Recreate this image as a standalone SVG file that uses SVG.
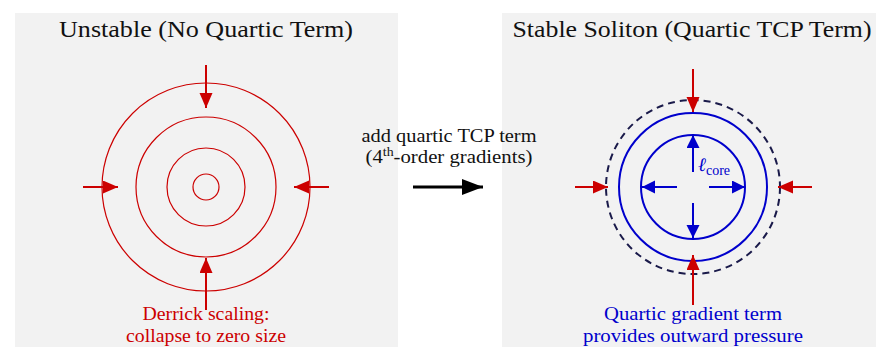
<svg xmlns="http://www.w3.org/2000/svg" width="876" height="347" viewBox="0 0 876 347">
<style>
text{font-family:"Liberation Serif","Times New Roman",serif;}
.title{font-size:24px;fill:#111;text-anchor:middle;}
.lbl{font-size:19px;text-anchor:middle;}
.red{stroke:#cc0000;fill:none;}
.blue{stroke:#0000cc;fill:none;}
</style>
<defs>
<marker id="ra" markerUnits="userSpaceOnUse" markerWidth="16" markerHeight="14" refX="15" refY="6.5" orient="auto"><path d="M0,0 L15,6.5 L0,13 Z" fill="#cc0000"/></marker>
<marker id="ba" markerUnits="userSpaceOnUse" markerWidth="14" markerHeight="14" refX="13" refY="6.5" orient="auto"><path d="M0,0 L13,6.5 L0,13 Z" fill="#0000cc"/></marker>
<marker id="ka" markerUnits="userSpaceOnUse" markerWidth="22" markerHeight="16" refX="21" refY="8" orient="auto"><path d="M0,0 L21,8 L0,16 Z" fill="#000"/></marker>
</defs>
<g id="panel-left">
<rect x="15" y="13" width="383" height="334" fill="#f2f2f2"/>
<text class="title" x="206" y="37" textLength="294" lengthAdjust="spacingAndGlyphs">Unstable (No Quartic Term)</text>
<circle class="red" cx="206" cy="187" r="104" stroke-width="1.2"/>
<circle class="red" cx="206" cy="187" r="70" stroke-width="1.2"/>
<circle class="red" cx="206" cy="187" r="39" stroke-width="1.2"/>
<circle class="red" cx="206" cy="187" r="13" stroke-width="1.2"/>
<text class="lbl" x="206" y="320" fill="#cc0000" textLength="127" lengthAdjust="spacingAndGlyphs">Derrick scaling:</text>
<text class="lbl" x="206" y="342" fill="#cc0000" textLength="160" lengthAdjust="spacingAndGlyphs">collapse to zero size</text>
</g>
<g id="panel-right">
<rect x="502" y="13" width="383" height="334" fill="#f2f2f2"/>
<text class="title" x="692" y="37" textLength="359" lengthAdjust="spacingAndGlyphs">Stable Soliton (Quartic TCP Term)</text>
<circle cx="693" cy="187" r="87" fill="none" stroke="#1a1a4a" stroke-width="2" stroke-dasharray="7,5"/>
<circle class="blue" cx="693" cy="187" r="74" stroke-width="2"/>
<circle class="blue" cx="693" cy="187" r="52" stroke-width="2"/>
<text x="698" y="171" font-size="19" fill="#0000cc"><tspan font-family="DejaVu Serif" font-style="italic">ℓ</tspan><tspan font-size="14" dy="4">core</tspan></text>
<text class="lbl" x="693" y="320" fill="#0000cc" textLength="178" lengthAdjust="spacingAndGlyphs">Quartic gradient term</text>
<text class="lbl" x="693" y="342" fill="#0000cc" textLength="220" lengthAdjust="spacingAndGlyphs">provides outward pressure</text>
</g>
<g id="transition">
<text x="449" y="142" font-size="18" text-anchor="middle" fill="#111" textLength="175" lengthAdjust="spacingAndGlyphs">add quartic TCP term</text>
<text x="449" y="163" font-size="18" text-anchor="middle" fill="#111" textLength="167" lengthAdjust="spacingAndGlyphs">(4<tspan font-size="12" dy="-7">th</tspan><tspan dy="7">-order gradients)</tspan></text>
</g>
<g id="connectors">
<line x1="206" y1="65" x2="206" y2="108" class="red" stroke-width="2" marker-end="url(#ra)"/>
<line x1="206" y1="310" x2="206" y2="258" class="red" stroke-width="2" marker-end="url(#ra)"/>
<line x1="83" y1="187" x2="118" y2="187" class="red" stroke-width="2" marker-end="url(#ra)"/>
<line x1="329" y1="187" x2="294" y2="187" class="red" stroke-width="2" marker-end="url(#ra)"/>
<line x1="413" y1="187" x2="483" y2="187" stroke="#000" stroke-width="3" marker-end="url(#ka)"/>
<line x1="693" y1="69" x2="693" y2="112" class="red" stroke-width="2" marker-end="url(#ra)"/>
<line x1="693" y1="305" x2="693" y2="255" class="red" stroke-width="2" marker-end="url(#ra)"/>
<line x1="575" y1="187" x2="608" y2="187" class="red" stroke-width="2" marker-end="url(#ra)"/>
<line x1="812" y1="187" x2="778" y2="187" class="red" stroke-width="2" marker-end="url(#ra)"/>
<line x1="693" y1="172" x2="693" y2="135" class="blue" stroke-width="2" marker-end="url(#ba)"/>
<line x1="693" y1="203" x2="693" y2="238" class="blue" stroke-width="2" marker-end="url(#ba)"/>
<line x1="677" y1="187" x2="642" y2="187" class="blue" stroke-width="2" marker-end="url(#ba)"/>
<line x1="709" y1="187" x2="745" y2="187" class="blue" stroke-width="2" marker-end="url(#ba)"/>
</g>
</svg>
